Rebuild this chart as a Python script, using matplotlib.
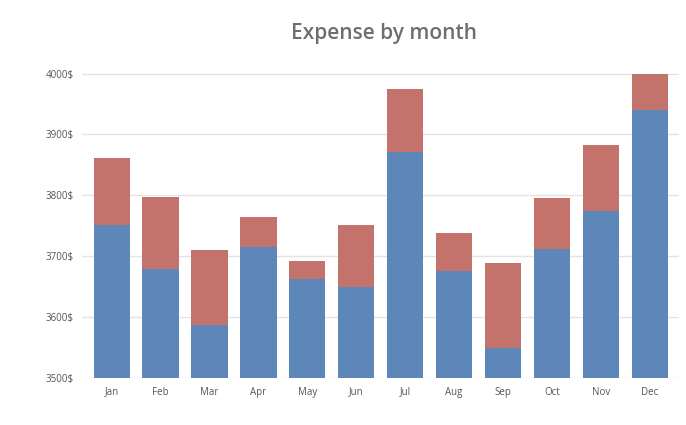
import matplotlib
matplotlib.use("Agg")
import matplotlib.pyplot as plt
import numpy as np

# Data (values in $)
months = ['Jan', 'Feb', 'Mar', 'Apr', 'May', 'Jun',
          'Jul', 'Aug', 'Sep', 'Oct', 'Nov', 'Dec']
base = [3752, 3680, 3588, 3716, 3663, 3650, 3871, 3676, 3550, 3712, 3775, 3940]
extra = [110, 118, 123, 49, 30, 102, 104, 62, 139, 84, 108, 60]
yticks = [3500, 3600, 3700, 3800, 3900, 4000]

blue = '#5d87b9'
red = '#c3736b'
grey = '#6e6e6e'

plt.rcParams['font.family'] = ['Open Sans', 'DejaVu Sans']

fig = plt.figure(figsize=(6.86, 4.25), dpi=100)
ax = fig.add_axes([0.12, 0.11, 0.87, 0.76])

x = np.arange(len(months))
ax.bar(x, base, width=0.74, bottom=0, color=blue, zorder=3)
ax.bar(x, extra, width=0.74, bottom=base, color=red, zorder=3)

ax.set_ylim(3500, 4030)
ax.set_xlim(-0.6, len(months) - 0.4)
ax.set_yticks(yticks)
ax.set_yticklabels([f'{v}$' for v in yticks])
ax.set_xticks(x)
ax.set_xticklabels(months)

ax.grid(axis='y', color='#e3e3e3', linewidth=1, zorder=0)
for s in ax.spines.values():
    s.set_visible(False)
ax.tick_params(axis='both', length=0, colors='#555555', labelsize=7, pad=6)

fig.text(0.56, 0.92, 'Expense by month', ha='center', va='center',
         fontsize=15, fontweight='semibold', color=grey)

fig.savefig('out.png', dpi=100)
